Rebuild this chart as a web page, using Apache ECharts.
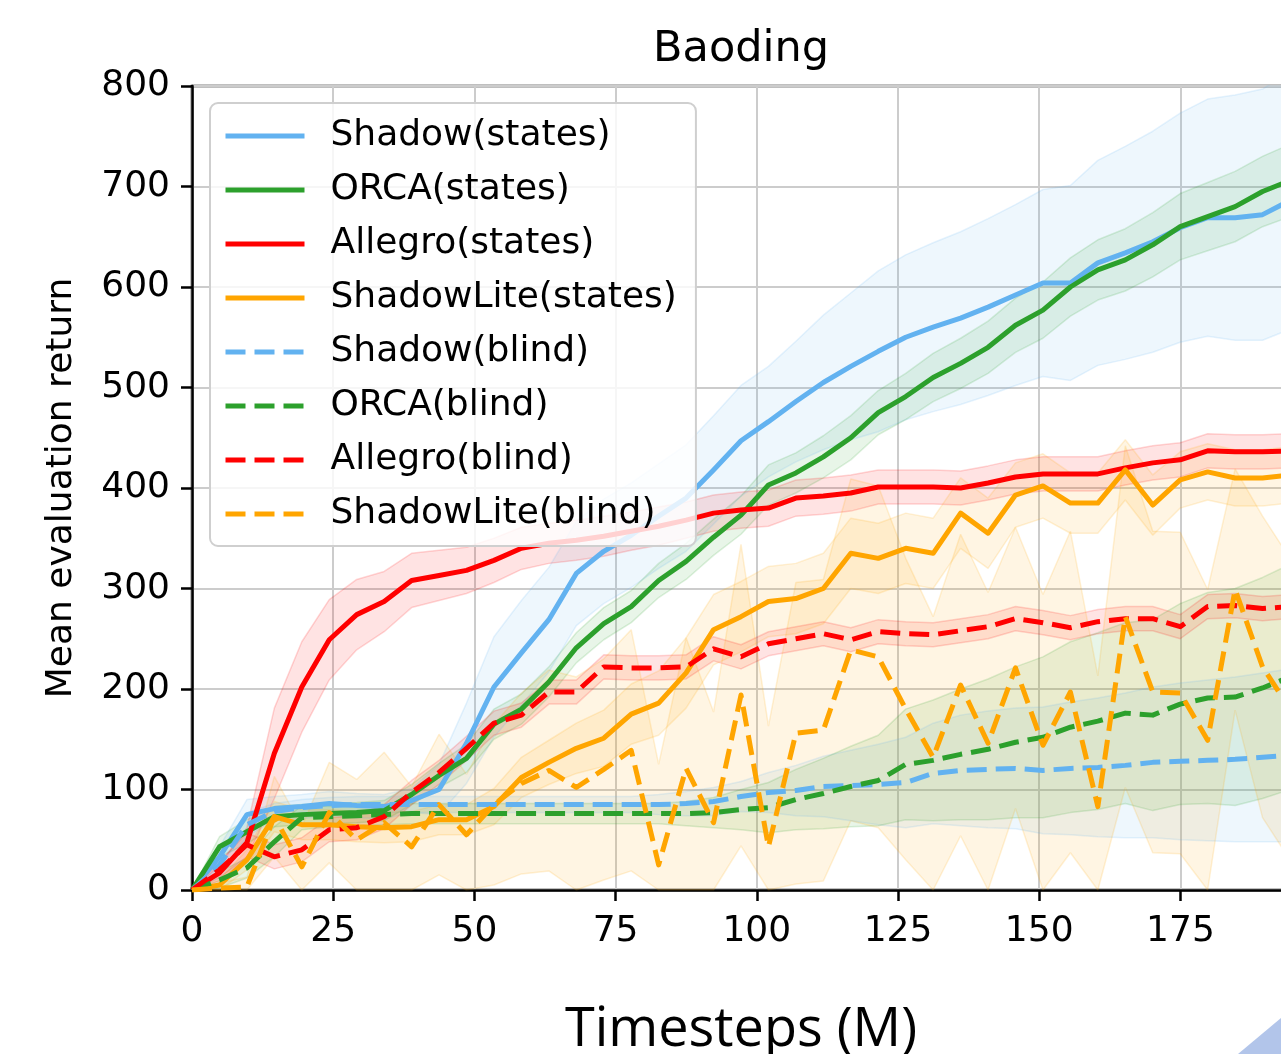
<!DOCTYPE html>
<html><head><meta charset="utf-8">
<script src="https://cdn.jsdelivr.net/npm/echarts@6/dist/echarts.min.js"></script>
<style>html,body{margin:0;padding:0;background:#fff}#c{width:1281px;height:1054px}</style>
</head><body><div id="c"></div>
<script>
// evaluation grid spacing (M timesteps)
const STEP = 4.86;
const N_POINTS = 41;
const xTickLabels = [0, 25, 50, 75, 100, 125, 150, 175];
const yTickLabels = [0, 100, 200, 300, 400, 500, 600, 700, 800];
const names = ['Shadow(states)', 'ORCA(states)', 'Allegro(states)', 'ShadowLite(states)',
               'Shadow(blind)', 'ORCA(blind)', 'Allegro(blind)', 'ShadowLite(blind)'];

// mean curves
const shadowStates = [0,33,75,81,83,86,84,83,89,100,146,202,236,269,315,337,353,372,390,418,447,466,486,505,521,536,550,560,569,580,592,604,604,624,634,645,659,669,669,672,686];
const orcaStates   = [0,43,58,73,75,76,77,79,95,114,131,165,180,207,241,265,282,308,327,351,373,403,415,431,450,475,491,510,524,540,562,577,600,617,627,642,660,670,680,695,706];
const allegroStates= [0,17,47,136,202,249,274,287,308,313,318,328,340,345,348,352,357,362,368,375,378,380,390,392,395,401,401,401,400,405,411,414,414,414,420,425,428,437,436,436,437];
const liteStates   = [0,5,30,73,65,65,63,62,63,70,70,83,112,127,141,151,175,186,216,259,272,287,290,300,335,330,340,335,375,355,393,402,385,385,418,383,408,416,410,410,413];
const shadowBlind  = [0,25,65,78,82,84,85,85,85,85,85,85,85,85,85,85,85,85,86,88,93,97,99,103,104,105,107,116,119,120,121,119,121,122,124,127,128,129,130,132,134];
const orcaBlind    = [0,10,22,48,72,73,74,75,76,76,76,76,76,76,76,76,76,76,76,77,80,82,90,96,103,109,125,129,135,140,147,152,162,168,176,174,185,191,192,201,212];
const allegroBlind = [0,20,45,33,40,60,62,73,97,117,141,166,174,197,197,222,221,221,222,240,232,245,250,255,249,257,255,254,258,262,270,266,261,267,270,270,262,282,283,280,282];
const liteBlind    = [0,2,3,73,23,77,50,67,43,85,55,85,106,119,102,120,139,25,121,67,194,43,156,159,239,232,180,132,204,146,221,144,197,83,272,197,196,149,299,222,180];

// half-widths of the shaded bands
const sdShadowStates = [0,10,15,12,12,12,12,12,12,25,40,50,52,52,52,52,52,52,53,54,55,55,60,67,73,80,82,84,86,88,90,93,97,102,106,110,114,118,122,125,128];
const sdOrcaStates   = [0,10,12,10,10,10,10,10,10,12,14,15,15,15,15,16,16,17,18,18,19,20,20,21,22,22,23,24,25,26,27,28,29,30,31,32,33,34,35,35,36];
const sdAllegroStates= [0,8,15,45,45,40,35,30,27,25,23,22,21,20,20,20,19,19,18,18,18,18,18,18,18,17,17,17,17,17,17,17,17,17,17,17,17,17,17,17,17];
const sdLiteStates   = [0,5,10,15,15,15,15,15,15,15,15,18,20,22,25,28,30,32,35,35,35,35,35,35,35,35,35,35,35,35,32,32,30,30,30,30,28,28,28,28,28];
const sdShadowBlind  = [0,10,12,8,8,8,8,8,8,8,8,8,8,8,8,8,8,10,12,14,15,20,25,30,35,40,45,50,55,58,60,63,66,69,72,75,78,80,82,84,86];
const sdOrcaBlind    = [0,8,10,15,12,10,10,10,10,10,10,10,10,10,10,10,10,10,12,15,20,25,30,35,40,45,55,60,65,70,75,80,85,88,90,95,100,105,108,110,112];
const sdAllegroBlind = [0,8,12,12,12,12,12,12,12,12,12,12,12,12,12,12,12,12,12,12,12,12,12,12,12,12,12,12,12,12,12,12,12,12,12,12,12,12,12,12,12];
const sdLiteBlind    = [0,5,10,40,40,50,60,70,60,70,60,80,90,100,110,110,120,100,130,110,150,120,150,150,170,170,150,140,150,150,140,150,160,130,170,160,160,150,120,150,150];

const BLUE = '#62b2f0', GREEN = '#2ca02c', RED = '#ff0000', ORANGE = '#ffa500';
const means = [shadowStates, orcaStates, allegroStates, liteStates, shadowBlind, orcaBlind, allegroBlind, liteBlind];
const sds = [sdShadowStates, sdOrcaStates, sdAllegroStates, sdLiteStates, sdShadowBlind, sdOrcaBlind, sdAllegroBlind, sdLiteBlind];
const colors = [BLUE, GREEN, RED, ORANGE, BLUE, GREEN, RED, ORANGE];
const dashed = [false, false, false, false, true, true, true, true];

// sample positions (M timesteps); the hidden category axis spans exactly 0..XMAX
const xs = Array.from({length: N_POINTS}, (_, i) => +(i * STEP).toFixed(3));
const XMAX = xs[N_POINTS - 1];

const series = [];
means.forEach((m, k) => {
  const lo = m.map((v, i) => Math.max(0, v - sds[k][i]));
  const diff = m.map((v, i) => v + sds[k][i] - lo[i]);
  const edge = {width: 1.5, color: colors[k], opacity: 0.16};
  series.push({type: 'line', name: '_lo' + k, xAxisIndex: 1, stack: 'band' + k, symbol: 'none', silent: true,
    data: lo, lineStyle: edge, z: 1});
  series.push({type: 'line', name: '_hi' + k, xAxisIndex: 1, stack: 'band' + k, symbol: 'none', silent: true,
    data: diff, lineStyle: edge, areaStyle: {color: colors[k], opacity: 0.11}, z: 1});
});
means.forEach((m, k) => {
  series.push({type: 'line', name: names[k], xAxisIndex: 1, symbol: 'none', z: 3,
    data: m,
    lineStyle: {color: colors[k], width: 5, type: dashed[k] ? [20, 9] : 'solid', cap: 'butt', join: 'round'},
    itemStyle: {color: colors[k]}});
});

const FONT = 'DejaVu Sans';
const chart = echarts.init(document.getElementById('c'), null, {renderer: 'canvas'});
chart.setOption({
  animation: false,
  backgroundColor: '#ffffff',
  grid: {left: 192, top: 86, width: 1098, height: 804, show: true, borderColor: '#000', borderWidth: 2.5,
    backgroundColor: 'transparent', containLabel: false, outerBoundsMode: 'none'},
  xAxis: [{
    type: 'value', min: 0, max: XMAX, interval: 25,
    name: 'Timesteps (M)', nameLocation: 'middle', nameGap: 114,
    nameTextStyle: {fontFamily: 'Open Sans', fontSize: 54, color: '#000'},
    axisLine: {show: true, lineStyle: {color: '#000', width: 2.5}},
    axisTick: {show: true, length: 11, lineStyle: {color: '#000', width: 2.5}},
    axisLabel: {fontFamily: FONT, fontSize: 36, color: '#000', margin: 24, showMaxLabel: false,
      formatter: v => xTickLabels.includes(v) ? String(v) : ''},
    splitLine: {show: true, lineStyle: {color: '#cccccc', width: 2}}
  }, {
    type: 'category', data: xs, boundaryGap: false, show: false
  }],
  yAxis: {
    type: 'value', min: 0, max: 800, interval: 100,
    name: 'Mean evaluation return', nameLocation: 'middle', nameGap: 112,
    nameTextStyle: {fontFamily: FONT, fontSize: 36, color: '#000'},
    axisLine: {show: true, lineStyle: {color: '#000', width: 2.5}},
    axisTick: {show: true, length: 11, lineStyle: {color: '#000', width: 2.5}},
    axisLabel: {fontFamily: FONT, fontSize: 36, color: '#000', margin: 22,
      formatter: v => yTickLabels.includes(v) ? String(v) : ''},
    splitLine: {show: true, lineStyle: {color: '#cccccc', width: 2}}
  },
  legend: {
    data: names, orient: 'vertical', left: 210, top: 103,
    itemWidth: 79, itemHeight: 20, itemGap: 18,
    padding: [15, 19, 14, 13],
    backgroundColor: 'rgba(255,255,255,0.82)', borderColor: '#cfcfcf', borderWidth: 2, borderRadius: 8,
    selectedMode: false,
    itemStyle: {opacity: 0, color: 'rgba(0,0,0,0)', borderWidth: 0},
    lineStyle: {width: 5},
    textStyle: {fontFamily: FONT, fontSize: 36, color: '#000', padding: [0, 0, 0, 21]}
  },
  graphic: [
    {type: 'text', z: 10, style: {x: 741, y: 50, text: 'Baoding', font: '43px "DejaVu Sans"', fill: '#000', textAlign: 'center', textVerticalAlign: 'middle'}},
    {type: 'polygon', z: 10, shape: {points: [[1281, 1018], [1238, 1054], [1281, 1054]]}, style: {fill: '#b2c5ea'}}
  ],
  series: series
});
</script></body></html>
